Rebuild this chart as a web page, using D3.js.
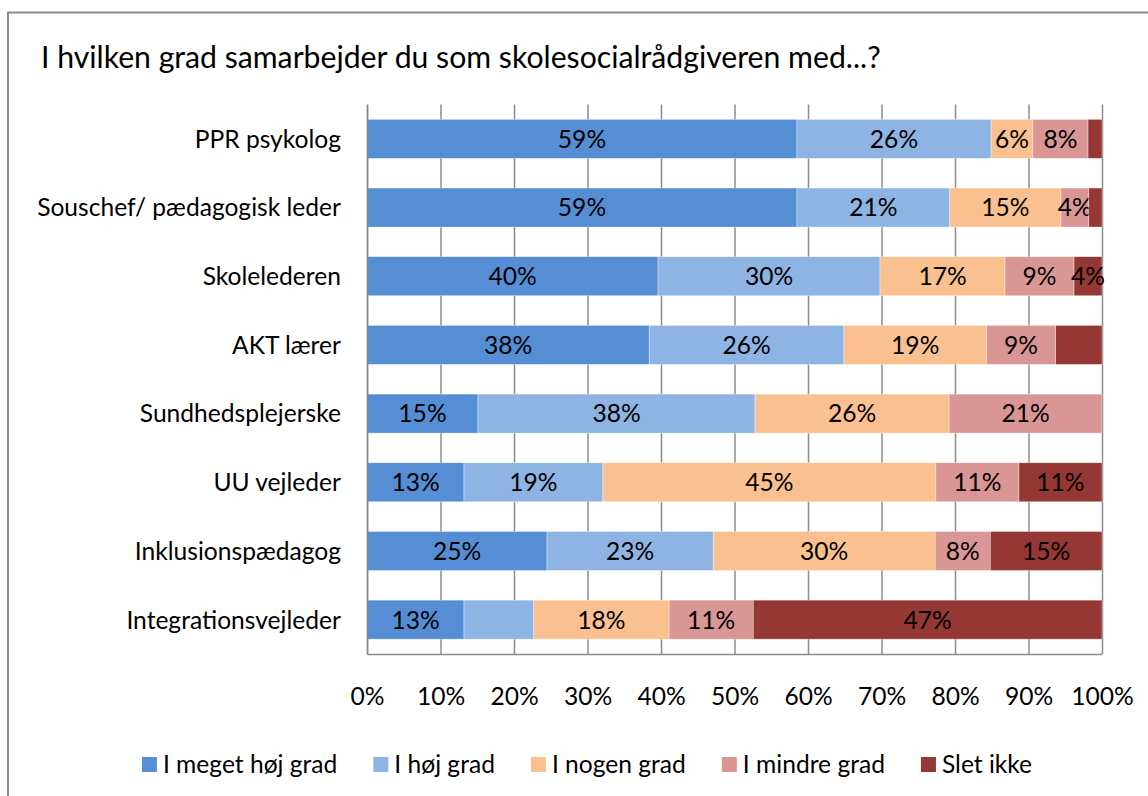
<!DOCTYPE html>
<html>
<head>
<meta charset="utf-8">
<script src="https://cdn.jsdelivr.net/npm/d3@7"></script>
<style>
  html, body { margin: 0; padding: 0; background: #fff; }
  svg { display: block; }
  text { font-family: Lato, "Open Sans", sans-serif; fill: #000; }
</style>
</head>
<body>
<svg id="chart" width="1148" height="796"></svg>
<script>
// ---- data (percent of respondents) ----
const categories = [
  "PPR psykolog",
  "Souschef/ pædagogisk leder",
  "Skolelederen",
  "AKT lærer",
  "Sundhedsplejerske",
  "UU vejleder",
  "Inklusionspædagog",
  "Integrationsvejleder"
];
const seriesNames = ["I meget høj grad", "I høj grad", "I nogen grad", "I mindre grad", "Slet ikke"];
const iMegetHoejGrad = [58.5, 58.5, 39.6, 38.4, 15.1, 13.2, 24.5, 13.2];
const iHoejGrad      = [26.4, 20.8, 30.2, 26.49, 37.7, 18.9, 22.6, 9.5];
const iNogenGrad     = [5.7, 15.1, 17.0, 19.4, 26.4, 45.3, 30.2, 18.4];
const iMindreGrad    = [7.5, 3.8, 9.4, 9.4, 20.8, 11.3, 7.5, 11.45];
const sletIkke       = [1.9, 1.8, 3.8, 6.31, 0, 11.3, 15.2, 47.45];
const tickValues = [0, 0.1, 0.2, 0.3, 0.4, 0.5, 0.6, 0.7, 0.8, 0.9, 1.0];
// data labels that are not shown in the original
const hiddenLabels = [
  ["PPR psykolog", "Slet ikke"],
  ["Souschef/ pædagogisk leder", "Slet ikke"],
  ["AKT lærer", "Slet ikke"],
  ["Integrationsvejleder", "I høj grad"]
];
const title = "I hvilken grad samarbejder du som skolesocialrådgiveren med...?";

// ---- styles ----
const colors = ["#558ED5", "#8EB4E3", "#FAC090", "#D99694", "#953735"];
const gridColor = "#8c8c8c";
const fontSize = 24.6;

const seriesValues = [iMegetHoejGrad, iHoejGrad, iNogenGrad, iMindreGrad, sletIkke];
const table = categories.map((c, i) => {
  const row = { category: c };
  seriesNames.forEach((s, j) => row[s] = seriesValues[j][i] / 100);
  return row;
});
const stacked = d3.stack().keys(seriesNames)(table);
const rawValue = (cat, key) => seriesValues[seriesNames.indexOf(key)][categories.indexOf(cat)];

const svg = d3.select("#chart");

// outer chart border (right and bottom extend beyond the view)
svg.append("rect")
  .attr("x", 8).attr("y", 12.5)
  .attr("width", 1200).attr("height", 900)
  .attr("fill", "#fff").attr("stroke", "#8a8a8a").attr("stroke-width", 2);

// title
svg.append("text")
  .attr("x", 41).attr("y", 68)
  .style("font-size", "30.2px")
  .text(title);

const plotLeft = 367, plotRight = 1102, plotTop = 104.5, plotBottom = 654;

const x = d3.scaleLinear().domain([0, 1]).range([plotLeft, plotRight]);
const y = d3.scaleBand().domain(categories).range([plotTop, plotBottom])
  .paddingInner(0.432).paddingOuter(0.216);

// gridlines
const grid = svg.append("g")
  .attr("transform", `translate(0,${plotBottom})`)
  .call(d3.axisBottom(x).tickValues(tickValues).tickSize(-(plotBottom - plotTop)).tickFormat(""));
grid.select(".domain").remove();
grid.selectAll("line").attr("stroke", gridColor).attr("stroke-width", 1.5);

// bars
const layers = svg.append("g").selectAll("g")
  .data(stacked).join("g")
  .attr("fill", (d, i) => colors[i]);

layers.selectAll("rect")
  .data(d => d.map(p => ({ p, key: d.key })))
  .join("rect")
  .attr("x", d => x(d.p[0]))
  .attr("y", d => y(d.p.data.category))
  .attr("width", d => Math.max(0, x(d.p[1]) - x(d.p[0])))
  .attr("height", y.bandwidth())
  .attr("stroke", "#fff").attr("stroke-width", 0.6).attr("stroke-opacity", 0.6);

// data labels
const isHidden = (cat, key) => hiddenLabels.some(h => h[0] === cat && h[1] === key);
layers.selectAll("text")
  .data(d => d.map(p => ({ p, key: d.key })).filter(d => (d.p[1] - d.p[0]) > 0 && !isHidden(d.p.data.category, d.key)))
  .join("text")
  .attr("x", d => (x(d.p[0]) + x(d.p[1])) / 2)
  .attr("y", d => y(d.p.data.category) + y.bandwidth() / 2)
  .attr("dy", "0.36em")
  .attr("text-anchor", "middle")
  .style("font-size", fontSize + "px")
  .style("fill", "#000")
  .text(d => Math.round(rawValue(d.p.data.category, d.key) + 1e-9) + "%");

// y axis (categories)
const yAxis = svg.append("g")
  .attr("transform", `translate(${plotLeft},0)`)
  .call(d3.axisLeft(y).tickSize(0).tickPadding(26));
yAxis.select(".domain").attr("stroke", gridColor).attr("stroke-width", 1.5);
yAxis.selectAll("text")
  .style("font-size", fontSize + "px")
  .style("font-family", "Lato, sans-serif")
  .attr("dy", "0.36em");

// x axis
const xAxis = svg.append("g")
  .attr("transform", `translate(0,${plotBottom})`)
  .call(d3.axisBottom(x).tickValues(tickValues).tickSize(0).tickFormat(d3.format(".0%")));
xAxis.select(".domain").attr("stroke", gridColor).attr("stroke-width", 1.5);
xAxis.selectAll("text")
  .attr("y", 51).attr("dy", 0)
  .style("font-size", fontSize + "px")
  .style("font-family", "Lato, sans-serif");

// legend
const legend = svg.append("g");
const items = legend.selectAll("g").data(seriesNames).join("g");
items.append("rect")
  .attr("width", 15).attr("height", 15)
  .attr("y", 757)
  .attr("fill", (d, i) => colors[i]);
items.append("text")
  .attr("x", 21).attr("y", 773)
  .style("font-size", fontSize + "px")
  .text(d => d);
let cursor = 0;
items.each(function () {
  const w = this.querySelector("text").getComputedTextLength();
  this.__off = cursor;
  cursor += 21 + w + 36;
});
const totalW = cursor - 36;
const legendCenter = 587;
items.attr("transform", function () { return `translate(${legendCenter - totalW / 2 + this.__off},0)`; });
</script>
</body>
</html>
